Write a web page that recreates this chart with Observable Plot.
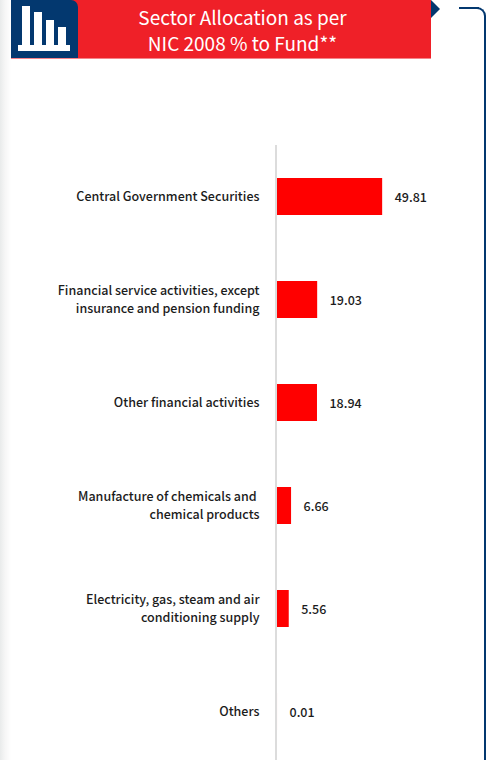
<!DOCTYPE html>
<html><head><meta charset="utf-8">
<script src="https://cdn.jsdelivr.net/npm/d3@7"></script>
<script src="https://cdn.jsdelivr.net/npm/@observablehq/plot@0.6"></script>
<style>
html,body{margin:0;padding:0;width:486px;height:760px;overflow:hidden;background:#fff;font-family:"Noto Sans CJK SC","Noto Sans",sans-serif}
#page{position:relative;width:486px;height:760px;overflow:hidden;background:linear-gradient(to right,#e9ebeb 0,#f6f6f6 5px,#fff 11px)}
#head{position:absolute;left:11px;top:0;width:420px;height:58px;background:#ef2028;border-bottom:1px solid #f5838a}
#badge{position:absolute;left:0;top:0;width:67px;height:58px;background:#03386f;border-top-right-radius:7px}
#badge i{position:absolute;background:#fff;display:block}
#title{position:absolute;left:67px;right:24px;top:0;color:#fff;text-align:center;font-size:19px;line-height:26px;padding-top:4px;font-weight:400;margin:0}
#arrow{position:absolute;left:431px;top:0;width:0;height:0;border-top:9px solid transparent;border-bottom:9px solid transparent;border-left:9px solid #03386f}
#bracket{position:absolute;left:459px;top:7px;width:20px;height:2px;background:#03386f}
#vert{position:absolute;left:476px;top:7px;width:8px;height:800px;border-top:2px solid #03386f;border-right:2px solid #03386f;border-top-right-radius:9px}
#chart{position:absolute;left:0;top:59px}
#chart svg{background:transparent;overflow:visible}
</style></head>
<body>
<div id="page">
<div id="bracket"></div><div id="vert"></div>
<div id="arrow"></div>
<div id="head">
  <div id="badge">
    <i style="left:7px;top:45px;width:52px;height:6px"></i>
    <i style="left:11px;top:6px;width:8px;height:40px"></i>
    <i style="left:23px;top:12px;width:8px;height:34px"></i>
    <i style="left:35px;top:20px;width:8px;height:26px"></i>
    <i style="left:47px;top:27px;width:8px;height:19px"></i>
  </div>
  <p id="title">Sector Allocation as per<br>NIC 2008 % to Fund**</p>
</div>
<div id="chart"></div>
</div>
<script>
const sectors = [
  "Central Government Securities",
  "Financial service activities, except\ninsurance and pension funding",
  "Other financial activities",
  "Manufacture of chemicals and \nchemical products",
  "Electricity, gas, steam and air\nconditioning supply",
  "Others"
];
const shares = [49.81, 19.03, 18.94, 6.66, 5.56, 0.01];
const labels = ["49.81", "19.03", "18.94", "6.66", "5.56", "0.01"];
const rows = sectors.map((s, i) => ({sector: s, share: shares[i], label: labels[i]}));

const plot = Plot.plot({
  width: 486,
  height: 701,
  marginLeft: 277,
  marginRight: 0,
  marginTop: 86,
  marginBottom: 0,
  style: {background: "transparent", fontFamily: '"Noto Sans CJK SC","Noto Sans",sans-serif'},
  x: {domain: [0, 99], range: [277, 486], axis: null},
  y: {domain: sectors, range: [86, 704], padding: 0, label: null},
  marks: [
    Plot.ruleX([0], {stroke: "#dcdcdc", strokeWidth: 2, dx: -1.5}),
    Plot.barX(rows, {x: "share", y: "sector", fill: "#ff0000", insetTop: 33, insetBottom: 33}),
    Plot.axisY({
      anchor: "left",
      tickSize: 0,
      tickPadding: 18,
      dy: -2,
      label: null,
      fontSize: 12.5,
      fontWeight: 500,
      lineHeight: 1.44,
      fill: "#1c1c1c",
      textOverflow: null,
      lineWidth: Infinity,
      tickFormat: d => d
    }),
    Plot.text(rows, {
      x: "share", y: "sector", text: "label",
      textAnchor: "start", dx: 12, dy: 1,
      fontSize: 12.5, fontWeight: 500, fill: "#1c1c1c"
    })
  ]
});
document.getElementById("chart").appendChild(plot);
</script>
</body></html>
